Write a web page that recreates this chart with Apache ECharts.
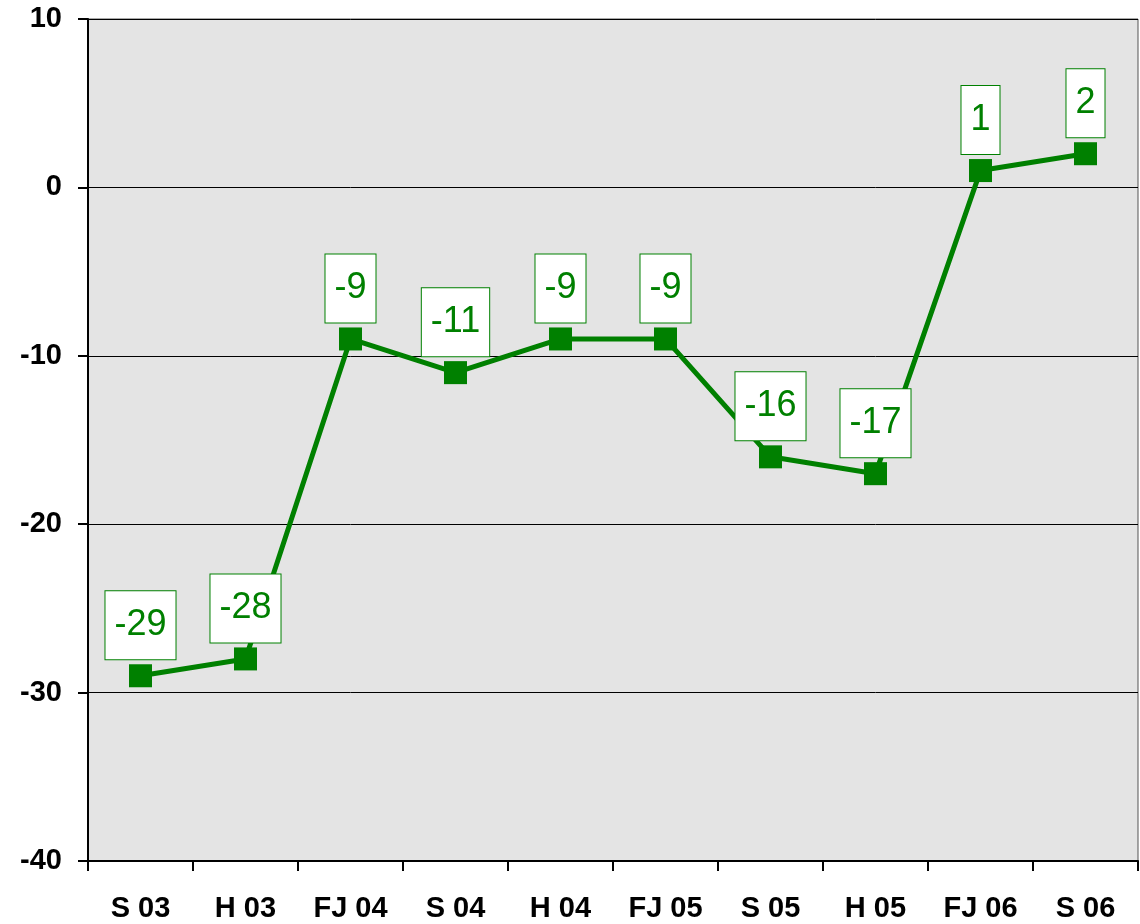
<!DOCTYPE html>
<html>
<head>
<meta charset="utf-8">
<script src="https://cdn.jsdelivr.net/npm/echarts@6/dist/echarts.min.js"></script>
<style>
  html, body { margin: 0; padding: 0; background: #fff; }
  #chart { width: 1140px; height: 924px; }
</style>
</head>
<body>
<div id="chart"></div>
<script>
const categories = ['S 03', 'H 03', 'FJ 04', 'S 04', 'H 04', 'FJ 05', 'S 05', 'H 05', 'FJ 06', 'S 06']
const values = [-29, -28, -9, -11, -9, -9, -16, -17, 1, 2]

const GREEN = '#008000'
const chart = echarts.init(document.getElementById('chart'))

chart.setOption({
  animation: false,
  grid: {
    left: 88, right: 2, top: 19, bottom: 63,
    show: true,
    backgroundColor: '#e4e4e4',
    borderColor: '#555',
    borderWidth: 1
  },
  xAxis: {
    type: 'category',
    data: categories,
    boundaryGap: true,
    axisLine: { onZero: false, lineStyle: { color: '#000', width: 2 } },
    axisTick: { show: true, inside: false, length: 10, lineStyle: { color: '#000', width: 2 } },
    axisLabel: {
      color: '#000', fontFamily: 'Liberation Sans', fontWeight: 'bold', fontSize: 29, margin: 33
    }
  },
  yAxis: {
    type: 'value',
    min: -40, max: 10, interval: 10,
    axisLine: { show: true, lineStyle: { color: '#000', width: 2 } },
    axisTick: { show: true, length: 10, lineStyle: { color: '#000', width: 2 } },
    splitLine: { show: true, lineStyle: { color: '#000', width: 1 } },
    axisLabel: {
      color: '#000', fontFamily: 'Liberation Sans', fontWeight: 'bold', fontSize: 29, margin: 26
    }
  },
  series: [{
    type: 'line',
    data: values,
    symbol: 'rect',
    symbolSize: 23,
    lineStyle: { color: GREEN, width: 5 },
    itemStyle: { color: GREEN },
    label: {
      show: true,
      position: 'top',
      distance: 5,
      color: GREEN,
      fontFamily: 'Liberation Sans',
      fontSize: 36,
      lineHeight: 36,
      backgroundColor: '#fff',
      borderColor: GREEN,
      borderWidth: 1,
      padding: [16, 9, 16, 9]
    }
  }]
})
</script>
</body>
</html>
